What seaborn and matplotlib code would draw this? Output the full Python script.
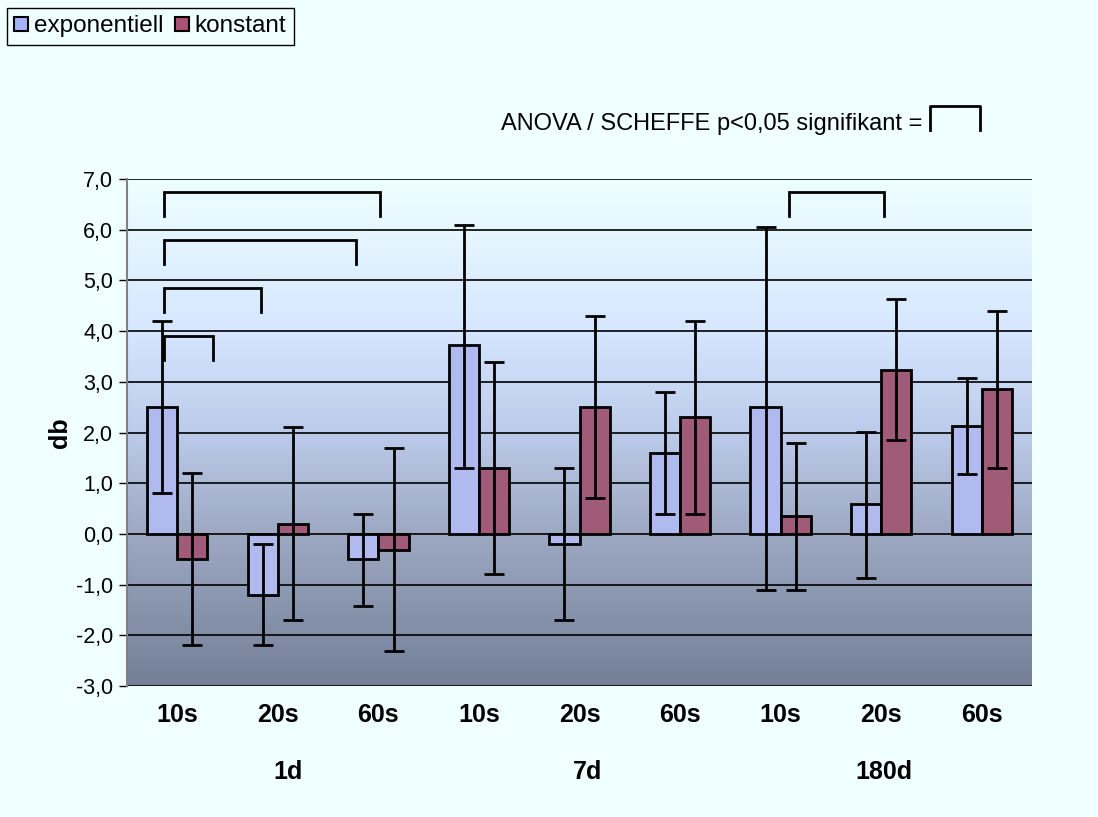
import numpy as np
import pandas as pd
import seaborn as sns
import matplotlib.pyplot as plt
from matplotlib.colors import LinearSegmentedColormap
from matplotlib.lines import Line2D

# data
zeiten = ["10s", "20s", "60s", "10s", "20s", "60s", "10s", "20s", "60s"]
gruppen = ["1d", "7d", "180d"]
exp_mean = [2.5, -1.2, -0.5, 3.73, -0.2, 1.6, 2.5, 0.6, 2.13]
exp_low = [0.8, -2.2, -1.42, 1.3, -1.7, 0.4, -1.1, -0.87, 1.19]
exp_high = [4.2, -0.2, 0.4, 6.1, 1.3, 2.8, 6.06, 2.01, 3.08]
kon_mean = [-0.5, 0.2, -0.32, 1.3, 2.5, 2.3, 0.35, 3.24, 2.85]
kon_low = [-2.2, -1.7, -2.3, -0.8, 0.7, 0.4, -1.1, 1.86, 1.31]
kon_high = [1.2, 2.1, 1.7, 3.4, 4.3, 4.2, 1.79, 4.63, 4.39]
# significance brackets (x from, x to, top y)
brackets = [(-0.13, 2.02, 6.75), (-0.13, 1.78, 5.8), (-0.13, 0.83, 4.85),
            (-0.13, 0.35, 3.9), (6.08, 7.03, 6.75)]

c_exp = "#A6B3F8"
c_kon = "#AB5077"
bg = "#F0FFFF"

plt.rcParams['font.family'] = ['Liberation Sans', 'DejaVu Sans']

df = pd.DataFrame({
    "pos": list(range(9)) * 2,
    "db": exp_mean + kon_mean,
    "art": ["exponentiell"] * 9 + ["konstant"] * 9,
})

fig = plt.figure(figsize=(10.98, 8.17), dpi=100, facecolor=bg)
ax = fig.add_axes([0.1157, 0.1603, 0.8242, 0.6206])

# gradient plot area
cmap = LinearSegmentedColormap.from_list("bg", [
    (0.0, "#748096"), (0.3, "#9DA9C3"), (0.5, "#BCCBEA"),
    (0.7, "#D6E6FF"), (1.0, "#EEFFFF")])
grad = np.linspace(0, 1, 256).reshape(-1, 1)
ax.imshow(grad, cmap=cmap, origin="lower", aspect="auto",
          extent=[-0.5, 8.5, -3, 7], zorder=0)

for yv in range(-3, 8):
    ax.axhline(yv, color="black", lw=1.2, zorder=1)

sns.barplot(data=df, x="pos", y="db", hue="art", palette=[c_exp, c_kon],
            width=0.6, edgecolor="black", linewidth=2, errorbar=None,
            legend=False, ax=ax, zorder=2)

pos = np.arange(9)
for off, m, lo, hi in [(-0.15, exp_mean, exp_low, exp_high),
                       (0.15, kon_mean, kon_low, kon_high)]:
    m = np.array(m)
    yerr = [m - np.array(lo), np.array(hi) - m]
    ax.errorbar(pos + off, m, yerr=yerr, fmt="none", ecolor="black",
                elinewidth=2, capsize=7, capthick=2, zorder=3)

for x0, x1, yt in brackets:
    ax.plot([x0, x0, x1, x1], [yt - 0.47, yt, yt, yt - 0.47],
            color="black", lw=2, zorder=3, solid_joinstyle="miter")

ax.set_xlim(-0.5, 8.5)
ax.set_ylim(-3, 7)
ax.set_yticks(range(-3, 8))
ax.set_yticklabels([f"{v},0" for v in range(-3, 8)], fontsize=15.5)
ax.set_xticks(pos)
ax.set_xticklabels(zeiten, fontsize=18, fontweight="bold")
ax.tick_params(axis="x", length=0, pad=12)
ax.tick_params(axis="y", length=6, width=1, direction="out", pad=4)
ax.set_xlabel("")
ax.set_ylabel("db", fontsize=18, fontweight="bold", labelpad=3)
for s in ["top", "right", "bottom"]:
    ax.spines[s].set_visible(False)
ax.spines["left"].set_color("#808080")
ax.spines["left"].set_linewidth(1.5)

for g, xc in zip(gruppen, [1.1, 4.08, 7.03]):
    ax.text(xc, -0.17, g, transform=ax.get_xaxis_transform(),
            ha="center", va="center", fontsize=18, fontweight="bold")

# legend top left
handles = [plt.Rectangle((0, 0), 1, 1, fc=c_exp, ec="black", lw=1.5),
           plt.Rectangle((0, 0), 1, 1, fc=c_kon, ec="black", lw=1.5)]
leg = fig.legend(handles, ["exponentiell", "konstant"], loc="upper left",
                 bbox_to_anchor=(0.0064, 0.99), borderaxespad=0, ncol=2,
                 fontsize=17.5, handlelength=0.55, handleheight=0.55,
                 handletextpad=0.25, columnspacing=0.5, borderpad=0.3,
                 fancybox=False, framealpha=1, facecolor=bg, edgecolor="black")
leg.get_frame().set_linewidth(1)

fig.text(0.84, 1 - 130 / 817, "ANOVA / SCHEFFE p<0,05 signifikant =",
         ha="right", va="baseline", fontsize=17)
fig.add_artist(Line2D([930 / 1098, 930 / 1098, 980 / 1098, 980 / 1098],
                      [1 - 130 / 817, 1 - 106 / 817, 1 - 106 / 817, 1 - 130 / 817],
                      color="black", lw=2))

fig.savefig("out.png", dpi=100, facecolor=bg)
